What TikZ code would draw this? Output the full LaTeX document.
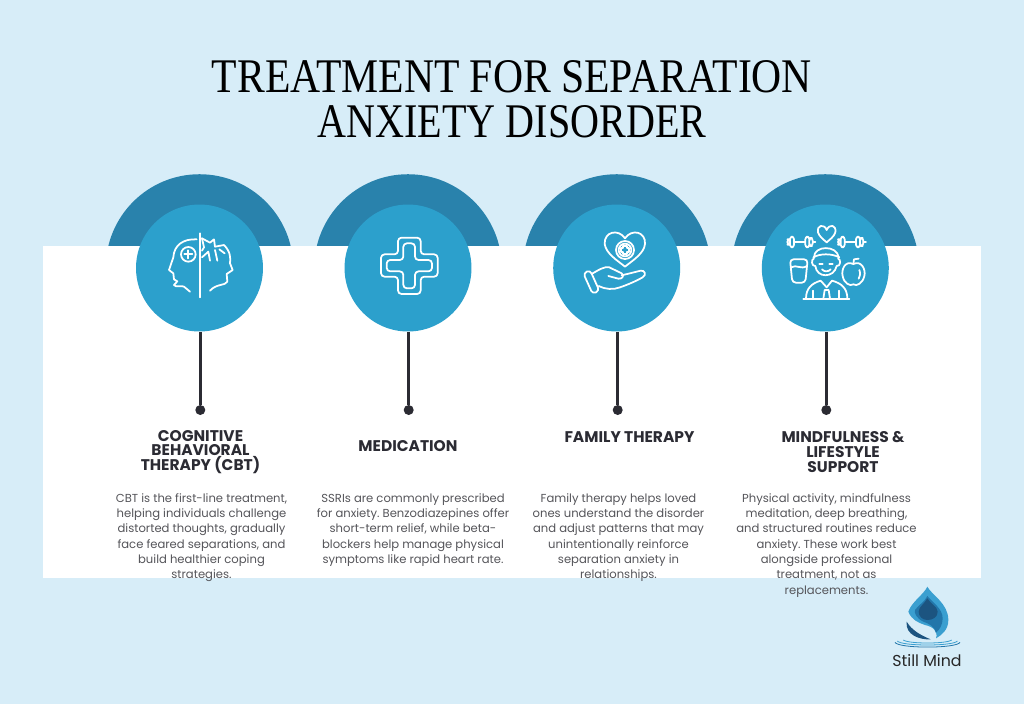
\documentclass[tikz,border=0pt]{standalone}
\usepackage{graphicx}
\usepackage{fontspec}
\newfontfamily\bodyfont{Poppins}
\newfontfamily\titlefont{Liberation Serif}
\frenchspacing
\definecolor{skyback}{RGB}{215,237,248}
\definecolor{archblue}{RGB}{41,130,172}
\definecolor{discblue}{RGB}{44,160,204}
\definecolor{stemgray}{RGB}{43,43,51}
\definecolor{bodygray}{RGB}{85,85,90}
\definecolor{dropmid}{RGB}{58,159,208}
\definecolor{droplow}{RGB}{34,118,170}
\definecolor{dropdark}{RGB}{28,84,128}
\tikzset{
    archnode/.style={circle,fill=archblue,inner sep=0pt,minimum size=3.752cm},
    discnode/.style={circle,fill=discblue,inner sep=0pt,minimum size=2.54cm},
    dotnode/.style={circle,fill=stemgray,inner sep=0pt,minimum size=0.2cm},
    headnode/.style={align=center,text=stemgray,font=\bodyfont\bfseries\fontsize{8.8}{8.4}\selectfont},
    bodynode/.style={align=center,anchor=north,text=bodygray,font=\bodyfont\fontsize{6.6}{8.73}\selectfont},
    iconline/.style={draw=white,line width=1pt,line join=round,line cap=round}
}

\begin{document}
\begin{tikzpicture}[x=0.02cm,y=-0.02cm]
    \fill[skyback] (0,0) rectangle (1024,704);

    \node[align=center,text=black,font=\titlefont\fontsize{27.5}{25.6}\selectfont] (title) at (512,99) {\scalebox{0.862}[1]{TREATMENT FOR SEPARATION}\\\scalebox{0.83}[1]{ANXIETY DISORDER}};

    \begin{scope}[every node/.style={archnode}]
        \node (arch1) at (199.5,268) {};
        \node (arch2) at (408,268) {};
        \node (arch3) at (616.7,268) {};
        \node (arch4) at (825.3,268) {};
    \end{scope}

    \fill[white] (43,246) rectangle (981,578);

    \begin{scope}[every node/.style={discnode}]
        \node (disc1) at (199.5,268) {};
        \node (disc2) at (408,268) {};
        \node (disc3) at (616.7,268) {};
        \node (disc4) at (825.3,268) {};
    \end{scope}

    \begin{scope}[every node/.style={dotnode}]
        \node (dot1) at (200.3,410) {};
        \node (dot2) at (408.7,410) {};
        \node (dot3) at (617.7,410) {};
        \node (dot4) at (826.3,410) {};
    \end{scope}

    \begin{scope}[every edge/.style={draw=stemgray,line width=1.6pt}]
        \path (disc1.south -| dot1) edge (dot1);
        \path (disc2.south -| dot2) edge (dot2);
        \path (disc3.south -| dot3) edge (dot3);
        \path (disc4.south -| dot4) edge (dot4);
    \end{scope}

    \node[headnode] (head1) at (200.5,452) {COGNITIVE\\BEHAVIORAL\\THERAPY (CBT)};
    \node[headnode] (head2) at (408,446.5) {MEDICATION};
    \node[headnode] (head3) at (629.5,437) {FAMILY THERAPY};
    \node[headnode] (head4) at (843,452) {MINDFULNESS \&\\LIFESTYLE\\SUPPORT};

    \node[bodynode] (text1) at (201.5,487) {CBT is the first-line treatment,\\helping individuals challenge\\distorted thoughts, gradually\\face feared separations, and\\build healthier coping\\strategies.};
    \node[bodynode] (text2) at (413,487) {SSRIs are commonly prescribed\\for anxiety. Benzodiazepines offer\\short-term relief, while beta-\\blockers help manage physical\\symptoms like rapid heart rate.};
    \node[bodynode] (text3) at (618.5,487) {Family therapy helps loved\\ones understand the disorder\\and adjust patterns that may\\unintentionally reinforce\\separation anxiety in\\relationships.};
    \node[bodynode] (text4) at (826.5,487) {Physical activity, mindfulness\\meditation, deep breathing,\\and structured routines reduce\\anxiety. These work best\\alongside professional\\treatment, not as\\replacements.};

    % head icon
    \begin{scope}[shift={(100,170)},scale=1/3,iconline]
        \draw (299,190) -- (299,382);
        \draw (290,208) .. controls (250,206) and (222,225) .. (220,262) -- (207,300) -- (220,310) -- (222,328) -- (232,334) -- (222,345) .. controls (228,354) and (245,345) .. (252,350) -- (270,365);
        \draw (265,253) circle[radius=22];
        \draw (265,241) -- (265,265) (253,253) -- (277,253);
        \draw (306,205) -- (330,218) -- (342,208) -- (345,230) -- (372,225) .. controls (392,245) and (392,265) .. (390,280) -- (398,300) -- (380,312) -- (382,335) .. controls (375,348) and (350,340) .. (330,362);
        \draw (306,205) -- (312,232) -- (306,242) (306,262) -- (325,245) -- (330,272) (345,240) -- (352,272) (358,238) -- (374,250);
    \end{scope}

    % cross icon
    \begin{scope}[shift={(320,170)},scale=1/3,iconline,rounded corners=2pt]
        \draw (234,203) -- (302,203) -- (302,253) -- (353,253) -- (353,320) -- (302,320) -- (302,372) -- (234,372) -- (234,320) -- (183,320) -- (183,253) -- (234,253) -- cycle;
        \draw (250,220) -- (285,220) -- (285,270) -- (336,270) -- (336,304) -- (285,304) -- (285,355) -- (250,355) -- (250,304) -- (200,304) -- (200,270) -- (250,270) -- cycle;
    \end{scope}

    % heart and hand icon
    \begin{scope}[shift={(320,170)},scale=1/3,iconline]
        \draw (915,205) .. controls (935,175) and (978,185) .. (975,222) .. controls (972,250) and (940,270) .. (915,290) .. controls (890,270) and (858,250) .. (854,222) .. controls (852,185) and (895,175) .. (915,205) -- cycle;
        \draw (915,240) circle[radius=27];
        \draw (915,240) circle[radius=19];
        \draw (910,228) -- (920,228) -- (920,235) -- (927,235) -- (927,245) -- (920,245) -- (920,252) -- (910,252) -- (910,245) -- (903,245) -- (903,235) -- (910,235) -- cycle;
        \draw[rounded corners=2pt] (790,310) -- (810,300) -- (838,362) -- (818,372) -- cycle;
        \draw (815,312) .. controls (835,300) and (855,288) .. (868,292) .. controls (880,298) and (895,305) .. (905,310) .. controls (915,318) and (905,328) .. (895,326) -- (865,318);
        \draw (905,316) -- (962,302) .. controls (975,300) and (980,315) .. (968,322) .. controls (945,335) and (920,345) .. (900,352) .. controls (880,360) and (855,358) .. (836,348);
    \end{scope}

    % wellness icon
    \begin{scope}[shift={(730,170)},scale=1/3,iconline]
        \draw (290,180) .. controls (298,160) and (320,165) .. (316,187) .. controls (312,200) and (300,208) .. (290,217) .. controls (280,208) and (268,200) .. (264,187) .. controls (260,165) and (282,160) .. (290,180) -- cycle;
        \draw[rounded corners=1.5pt] (172,208) rectangle (180,224) (180,200) rectangle (192,232) (226,200) rectangle (238,232) (238,204) rectangle (248,228);
        \draw (192,215) -- (226,215) (248,215) -- (256,215);
        \draw[rounded corners=1.5pt] (332,208) rectangle (324,224) (344,200) rectangle (332,232) (378,200) rectangle (390,232) (390,204) rectangle (400,228);
        \draw (344,215) -- (378,215) (400,215) -- (408,215);
        \draw[rounded corners=2pt] (180,268) -- (233,268) -- (226,338) -- (187,338) -- cycle;
        \draw (183,292) .. controls (200,282) and (212,300) .. (231,288);
        \draw (252,262) .. controls (252,225) and (322,225) .. (326,262);
        \draw (250,262) .. controls (270,250) and (305,250) .. (328,262);
        \draw (252,265) .. controls (242,268) and (245,290) .. (256,288) .. controls (260,325) and (312,325) .. (320,288) .. controls (332,290) and (334,268) .. (324,265);
        \draw (268,283) -- (278,283) (298,283) -- (308,283);
        \draw (276,298) .. controls (283,306) and (295,306) .. (302,298);
        \draw (220,388) -- (358,388);
        \draw (228,386) .. controls (228,355) and (245,340) .. (272,332) -- (290,352) -- (306,332) .. controls (335,340) and (352,355) .. (352,386);
        \draw (250,386) -- (250,362) (328,386) -- (328,362);
        \draw (280,386) -- (284,360) -- (296,360) -- (300,386);
        \draw (370,282) .. controls (395,270) and (408,300) .. (403,318) .. controls (398,340) and (380,350) .. (370,343) .. controls (360,350) and (342,340) .. (338,318) .. controls (333,300) and (345,270) .. (370,282) -- cycle;
        \draw (370,282) -- (372,268) -- (386,266);
        \draw (388,300) .. controls (392,310) and (390,320) .. (386,326);
    \end{scope}

    % logo
    \begin{scope}[shift={(870,570)},scale=1/3]
        \fill[dropmid] (172,50) .. controls (185,75) and (235,100) .. (235,150) .. controls (235,180) and (215,195) .. (198,205) .. controls (205,185) and (190,170) .. (165,165) .. controls (145,158) and (125,150) .. (115,125) .. controls (125,95) and (160,75) .. (172,50) -- cycle;
        \fill[droplow] (172,78) .. controls (185,95) and (218,115) .. (218,145) .. controls (218,165) and (208,180) .. (198,188) .. controls (195,170) and (175,160) .. (160,155) .. controls (140,145) and (132,130) .. (135,120) .. controls (145,105) and (165,95) .. (172,78) -- cycle;
        \fill[dropdark] (172,85) .. controls (180,100) and (203,110) .. (203,125) .. controls (203,142) and (188,150) .. (172,150) .. controls (156,150) and (146,138) .. (146,125) .. controls (146,110) and (165,100) .. (172,85) -- cycle;
        \fill[dropdark] (110,155) .. controls (125,180) and (150,195) .. (182,208) .. controls (150,210) and (105,195) .. (110,155) -- cycle;
        \draw[droplow,line width=0.45pt] (75,217) .. controls (85,236) and (260,236) .. (270,217);
        \draw[dropmid,line width=0.45pt] (82,213) .. controls (95,229) and (250,229) .. (262,213);
        \draw[dropmid,line width=0.45pt] (100,210) .. controls (115,222) and (230,222) .. (245,210);
    \end{scope}

    \node[text=black!85,font=\bodyfont\fontsize{9}{10}\selectfont] (brand) at (927,661) {Still Mind};
\end{tikzpicture}
\end{document}
